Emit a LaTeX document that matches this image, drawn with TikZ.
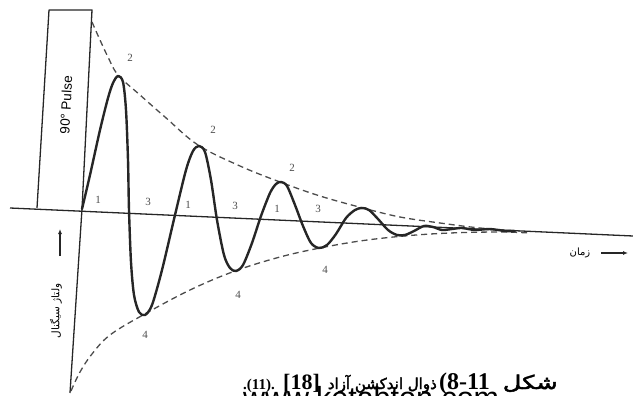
\documentclass[tikz,border=0pt]{standalone}
\usepackage{fontspec}
\setmainfont{Liberation Serif}
\newfontfamily\arabicfont[Script=Arabic]{DejaVu Sans}
\newfontfamily\arabicbf[Script=Arabic,FakeBold=2.5]{DejaVu Sans}
\newfontfamily\arabicwide[Script=Arabic,FakeBold=2.5,FakeStretch=1.35]{DejaVu Sans}
\newfontfamily\pulsefont{Liberation Sans}
\TeXXeTstate=1
\usetikzlibrary{arrows.meta}
\tikzset{
  axisline/.style={line width=1.3pt, black!85, line join=round},
  envline/.style={line width=1.3pt, dash pattern=on 6pt off 4pt, black!70},
  sigline/.style={line width=2.4pt, black!85, line join=round, line cap=round},
  numlab/.style={font=\fontsize{11}{13}\selectfont, text=black!70, inner sep=0pt},
  arrowline/.style={line width=1.1pt, black!85, -{Latex[length=5pt,width=4pt]}},
  capnum/.style={anchor=base west, inner sep=0pt, font=\bfseries\fontsize{22}{24}\selectfont},
  capar/.style={anchor=base east, inner sep=0pt, font=\arabicbf\fontsize{15}{19}\selectfont},
}
\begin{document}
\begin{tikzpicture}[x=1pt,y=-1pt]
\useasboundingbox (0,0) rectangle (633,396);
\clip (0,0) rectangle (633,396);
% axes and pulse box
\coordinate (bl) at (10,208);
\coordinate (br) at (633,236);
\coordinate (p1) at (37,208);
\coordinate (p2) at (49,10);
\coordinate (p3) at (92,10);
\coordinate (o) at (82,209);
\coordinate (vb) at (70,393);
\draw[axisline] (bl) -- (br);
\draw[axisline] (p1) -- (p2) -- (p3) -- (o) -- (vb);
\node[rotate=87, font=\pulsefont\fontsize{13.5}{15}\selectfont, inner sep=0pt] (pulse) at (66,105) {90° Pulse};
% envelopes
\draw[envline] plot[smooth, tension=0.6] coordinates {(92,22) (100,40) (108,57) (118,75) (140,95) (165,117) (198,145) (240,166) (280,182) (320,196) (363,208) (400,217) (440,223) (480,228) (520,231)};
\draw[envline] plot[smooth, tension=0.6] coordinates {(71,391) (80,372) (92,354) (110,335) (143,315) (190,290) (235,271) (280,257) (320,248) (360,241) (404,236) (450,233) (500,232) (530,233)};
% signal
\draw[sigline] plot[smooth, tension=0.5] coordinates {
(82,209) (90,175) (100,130) (108,98) (113,83) (118,76) (123,82) (126,110) (128,160) (129,210) (131,262) (134,295) (139,312) (145,315)
(152,305) (162,270) (175,215) (186,170) (193,151) (199,146) (205,152) (211,180) (217,220) (224,255) (230,268) (236,271)
(243,265) (252,243) (261,216) (270,193) (276,184) (281,182) (287,186) (295,205) (303,226) (311,243) (319,248)
(327,245) (336,234) (346,218) (355,210) (362,208) (369,210) (378,219) (388,230) (397,235) (405,235) (414,231) (424,226)
(433,227) (442,230) (452,229) (462,228) (475,230) (490,229) (505,231) (515,231)};
% numbers
\node[numlab] (t2a) at (130,58) {2};
\node[numlab] (t2b) at (213,130) {2};
\node[numlab] (t2c) at (292,168) {2};
\node[numlab] (t1a) at (98,200) {1};
\node[numlab] (t1b) at (188,205) {1};
\node[numlab] (t1c) at (277,209) {1};
\node[numlab] (t3a) at (148,202) {3};
\node[numlab] (t3b) at (235,206) {3};
\node[numlab] (t3c) at (318,209) {3};
\node[numlab] (t4a) at (145,335) {4};
\node[numlab] (t4b) at (238,295) {4};
\node[numlab] (t4c) at (325,270) {4};
% axis labels
\node[font=\arabicfont\fontsize{10}{12}\selectfont, inner sep=0pt] (timelab) at (580,253) {\beginR زمان\endR};
\coordinate (ta) at (601,253);
\coordinate (tb) at (628,253);
\draw[arrowline] (ta) -- (tb);
\node[rotate=90, font=\arabicfont\fontsize{10.5}{12}\selectfont, inner sep=0pt] (ylab) at (56,311) {\beginR ولتاژ سیگنال\endR};
\coordinate (ya) at (60,256);
\coordinate (yb) at (60,229);
\draw[arrowline] (ya) -- (yb);
% caption
\node[anchor=base west, inner sep=0pt, font=\bfseries\fontsize{15}{17}\selectfont] (c1) at (243,389) {.(11).};
\node[capnum] (c2) at (283,389) {[18]};
\node[capar] (c3) at (437,389) {\beginR ذوال اندکشن آزاد\endR};
\node[capnum, font=\bfseries\fontsize{24}{26}\selectfont] (c4) at (439,389) {(8-11};
\node[capar, font=\arabicwide\fontsize{19}{22}\selectfont] (c5) at (558,389) {\beginR شکل\endR};
\node[anchor=base west, inner sep=0pt, font=\pulsefont\fontsize{30.5}{32}\selectfont] (wm) at (243,408) {www.ketabton.com};
\end{tikzpicture}
\end{document}
